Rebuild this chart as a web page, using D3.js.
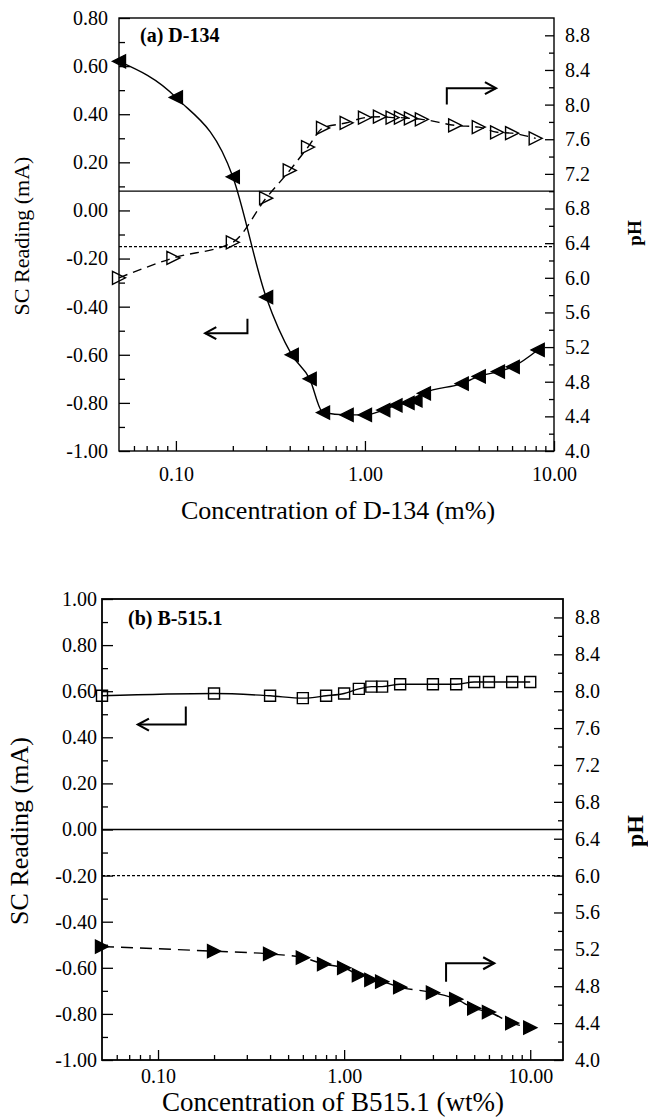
<!DOCTYPE html>
<html>
<head>
<meta charset="utf-8">
<script src="https://cdn.jsdelivr.net/npm/d3@7"></script>
<style>
  body { margin: 0; background: #fff; }
  svg { display: block; font-family: "Liberation Serif", "Times New Roman", serif; }
</style>
</head>
<body>
<svg id="chart" width="648" height="1118"></svg>
<script>
// ---- Panel (a): D-134 ----
const concA_sc = [0.05, 0.1, 0.2, 0.3, 0.41, 0.51, 0.6, 0.8, 1.0, 1.25, 1.45, 1.68, 1.85, 2.05, 3.25, 4.0, 5.05, 6.05, 8.2];
const scA = [0.62, 0.47, 0.14, -0.36, -0.60, -0.70, -0.84, -0.85, -0.85, -0.83, -0.81, -0.80, -0.79, -0.76, -0.72, -0.69, -0.67, -0.65, -0.58];
const concA_ph = [0.05, 0.097, 0.2, 0.3, 0.4, 0.5, 0.6, 0.8, 1.0, 1.2, 1.4, 1.55, 1.75, 2.0, 3.0, 4.0, 5.0, 6.0, 8.0];
const phA = [6.0, 6.23, 6.41, 6.92, 7.24, 7.51, 7.73, 7.79, 7.85, 7.86, 7.85, 7.85, 7.84, 7.83, 7.76, 7.74, 7.68, 7.67, 7.61];

// ---- Panel (b): B-515.1 ----
const concB_sc = [0.05, 0.2, 0.4, 0.6, 0.8, 1.0, 1.2, 1.4, 1.6, 2.0, 3.0, 4.0, 5.0, 6.0, 8.0, 10.0];
const scB = [0.58, 0.59, 0.58, 0.57, 0.58, 0.59, 0.61, 0.62, 0.62, 0.63, 0.63, 0.63, 0.64, 0.64, 0.64, 0.64];
const concB_ph = [0.05, 0.2, 0.4, 0.6, 0.78, 1.0, 1.2, 1.4, 1.6, 2.0, 3.0, 4.0, 5.0, 6.0, 8.0, 10.0];
const phB = [5.23, 5.18, 5.15, 5.11, 5.04, 5.0, 4.92, 4.87, 4.85, 4.79, 4.73, 4.66, 4.56, 4.52, 4.40, 4.35];

// ---- Ticks ----
const xTicks = [0.1, 1, 10];
const scTicksA = [-1.0, -0.8, -0.6, -0.4, -0.2, 0, 0.2, 0.4, 0.6, 0.8];
const scTicksB = [-1.0, -0.8, -0.6, -0.4, -0.2, 0, 0.2, 0.4, 0.6, 0.8, 1.0];
const phTicks = [4.0, 4.4, 4.8, 5.2, 5.6, 6.0, 6.4, 6.8, 7.2, 7.6, 8.0, 8.4, 8.8];

// ---- Annotation arrows ([conc, value] corners, head at the last point) ----
const arrowA_sc = [[0.239, -0.45], [0.239, -0.51], [0.143, -0.51]];
const arrowA_ph = [[2.71, 8.0], [2.71, 8.19], [4.93, 8.19]];
const arrowB_sc = [[0.141, 0.534], [0.141, 0.455], [0.078, 0.455]];
const arrowB_ph = [[3.53, 4.85], [3.53, 5.05], [6.4, 5.05]];

const svg = d3.select("#chart");

const fmt2 = (d) => (Math.abs(d) < 1e-9 ? 0 : d).toFixed(2);
const fmt1 = (d) => d.toFixed(1);

function logMinor(domain) {
  const out = [];
  [0.01, 0.1, 1].forEach((dec) => {
    for (let k = 2; k <= 9; k++) {
      const v = k * dec;
      if (v > domain[0] * 1.001 && v < domain[1] * 0.999) out.push(v);
    }
  });
  return out;
}

function markerPath(type, s) {
  if (type === "left") return `M${-s},0L${s},${-s}L${s},${s}Z`;
  if (type === "right") return `M${s},0L${-s},${-s}L${-s},${s}Z`;
  return `M${-s},${-s}H${s}V${s}H${-s}Z`;
}

function drawPanel(p) {
  const x = d3.scaleLog().domain(p.xDomain).range([p.left, p.right]);
  const ySC = d3.scaleLinear().domain(p.scDomain).range([p.bottom, p.top]);
  const yPH = d3.scaleLinear().domain([4.0, 9.0]).range([p.bottom, p.top]);
  const g = svg.append("g");

  // reference lines
  g.append("line")
    .attr("x1", p.left).attr("x2", p.right)
    .attr("y1", p.solidRef(ySC, yPH)).attr("y2", p.solidRef(ySC, yPH))
    .attr("stroke", "#000").attr("stroke-width", 1.3);
  g.append("line")
    .attr("x1", p.left).attr("x2", p.right)
    .attr("y1", ySC(p.dashRefSC)).attr("y2", ySC(p.dashRefSC))
    .attr("stroke", "#000").attr("stroke-width", 1.2)
    .attr("stroke-dasharray", "3,2");

  // axes
  const bottomAxis = g.append("g").attr("transform", `translate(0,${p.bottom})`)
    .call(d3.axisBottom(x).tickValues(xTicks).tickSize(-10).tickPadding(p.xPad).tickFormat(fmt2));
  const bottomMinor = g.append("g").attr("transform", `translate(0,${p.bottom})`)
    .call(d3.axisBottom(x).tickValues(logMinor(p.xDomain)).tickSize(-5).tickFormat(""));
  const leftAxis = g.append("g").attr("transform", `translate(${p.left},0)`)
    .call(d3.axisLeft(ySC).tickValues(p.scTicks).tickSize(-11).tickPadding(p.yPad).tickFormat(fmt2));
  const scMinor = p.scTicks.slice(0, -1).map((d) => d + 0.1);
  const leftMinor = g.append("g").attr("transform", `translate(${p.left},0)`)
    .call(d3.axisLeft(ySC).tickValues(scMinor).tickSize(-6).tickFormat(""));
  const rightAxis = g.append("g").attr("transform", `translate(${p.right},0)`)
    .call(d3.axisRight(yPH).tickValues(phTicks).tickSize(-9).tickPadding(p.rPad).tickFormat(fmt1));
  const phMinor = phTicks.slice(0, -1).map((d) => d + 0.2);
  const rightMinor = g.append("g").attr("transform", `translate(${p.right},0)`)
    .call(d3.axisRight(yPH).tickValues(phMinor).tickSize(-5).tickFormat(""));

  [bottomAxis, bottomMinor, leftAxis, leftMinor, rightAxis, rightMinor].forEach((a) => {
    a.select(".domain").remove();
    a.selectAll(".tick line").attr("stroke", "#000").attr("stroke-width", 1.3);
    a.selectAll("text").attr("font-size", 20).attr("font-family", "Liberation Serif, Times New Roman, serif").attr("fill", "#000");
  });

  // frame
  g.append("rect")
    .attr("x", p.left).attr("y", p.top)
    .attr("width", p.right - p.left).attr("height", p.bottom - p.top)
    .attr("fill", "none").attr("stroke", "#000").attr("stroke-width", p.frameW);

  // series
  const lineSC = d3.line().x((d) => x(d[0])).y((d) => ySC(d[1])).curve(d3.curveMonotoneX);
  const linePH = d3.line().x((d) => x(d[0])).y((d) => yPH(d[1])).curve(d3.curveMonotoneX);

  const sc = d3.zip(p.scConc, p.scVals);
  const ph = d3.zip(p.phConc, p.phVals);

  g.append("path").datum(sc).attr("d", lineSC)
    .attr("fill", "none").attr("stroke", "#000").attr("stroke-width", 1.4)
    .attr("stroke-dasharray", p.scDash);
  g.append("path").datum(ph).attr("d", linePH)
    .attr("fill", "none").attr("stroke", "#000").attr("stroke-width", 1.4)
    .attr("stroke-dasharray", p.phDash);

  g.selectAll(".msc").data(sc).enter().append("path")
    .attr("transform", (d) => `translate(${x(d[0])},${ySC(d[1])})`)
    .attr("d", markerPath(p.scMarker.type, p.scMarker.size))
    .attr("fill", p.scMarker.fill).attr("stroke", "#000").attr("stroke-width", 1.4);
  g.selectAll(".mph").data(ph).enter().append("path")
    .attr("transform", (d) => `translate(${x(d[0])},${yPH(d[1])})`)
    .attr("d", markerPath(p.phMarker.type, p.phMarker.size))
    .attr("fill", p.phMarker.fill).attr("stroke", "#000").attr("stroke-width", 1.4);

  // arrows
  function arrow(pts, yScale) {
    const px = pts.map((d) => [x(d[0]), yScale(d[1])]);
    g.append("path").attr("d", d3.line()(px))
      .attr("fill", "none").attr("stroke", "#000").attr("stroke-width", 2);
    const [tx, ty] = px[px.length - 1];
    const dir = Math.sign(tx - px[px.length - 2][0]);
    g.append("path")
      .attr("d", `M${tx - dir * 11},${ty - 6}L${tx},${ty}L${tx - dir * 11},${ty + 6}`)
      .attr("fill", "none").attr("stroke", "#000").attr("stroke-width", 2.2);
  }
  arrow(p.arrowSC, ySC);
  arrow(p.arrowPH, yPH);

  // texts
  g.append("text").attr("x", p.tag[0]).attr("y", p.tag[1])
    .attr("font-size", 20).attr("font-weight", "bold").text(p.tagText);
  g.append("text")
    .attr("transform", `translate(${p.yTitle[0]},${p.yTitle[1]}) rotate(-90)`)
    .attr("text-anchor", "middle").attr("font-size", p.yTitleSize)
    .text("SC Reading (mA)");
  g.append("text")
    .attr("transform", `translate(${p.phTitle[0]},${p.phTitle[1]}) rotate(-90)`)
    .attr("text-anchor", "middle").attr("font-size", p.phTitleSize).attr("font-weight", "bold")
    .text("pH");
  g.append("text").attr("x", p.xTitle[0]).attr("y", p.xTitle[1])
    .attr("text-anchor", "middle").attr("font-size", p.xTitleSize)
    .text(p.xTitleText);
}

drawPanel({
  left: 119, right: 554, top: 18, bottom: 451,
  xDomain: [0.05, 10], scDomain: [-1.0, 0.8], scTicks: scTicksA,
  xPad: 16, yPad: 11, rPad: 11, frameW: 1.4,
  solidRef: (ySC, yPH) => yPH(7.0), dashRefSC: -0.15,
  scConc: concA_sc, scVals: scA, phConc: concA_ph, phVals: phA,
  scDash: null, phDash: "9,6",
  scMarker: { type: "left", size: 6.5, fill: "#000" },
  phMarker: { type: "right", size: 6.5, fill: "none" },
  arrowSC: arrowA_sc, arrowPH: arrowA_ph,
  tag: [140, 42], tagText: "(a) D-134",
  yTitle: [29, 236], yTitleSize: 22,
  phTitle: [641, 233], phTitleSize: 19,
  xTitle: [338, 519], xTitleSize: 26, xTitleText: "Concentration of D-134 (m%)",
});

drawPanel({
  left: 102, right: 563, top: 599, bottom: 1060,
  xDomain: [0.05, 15], scDomain: [-1.0, 1.0], scTicks: scTicksB,
  xPad: 9, yPad: 5, rPad: 12, frameW: 1.8,
  solidRef: (ySC, yPH) => ySC(0), dashRefSC: -0.2,
  scConc: concB_sc, scVals: scB, phConc: concB_ph, phVals: phB,
  scDash: null, phDash: "12,7",
  scMarker: { type: "square", size: 5.5, fill: "none" },
  phMarker: { type: "right", size: 6.5, fill: "#000" },
  arrowSC: arrowB_sc, arrowPH: arrowB_ph,
  tag: [128, 625], tagText: "(b) B-515.1",
  yTitle: [28, 831], yTitleSize: 26,
  phTitle: [643, 831], phTitleSize: 24,
  xTitle: [333, 1111], xTitleSize: 27, xTitleText: "Concentration of B515.1 (wt%)",
});
</script>
</body>
</html>
